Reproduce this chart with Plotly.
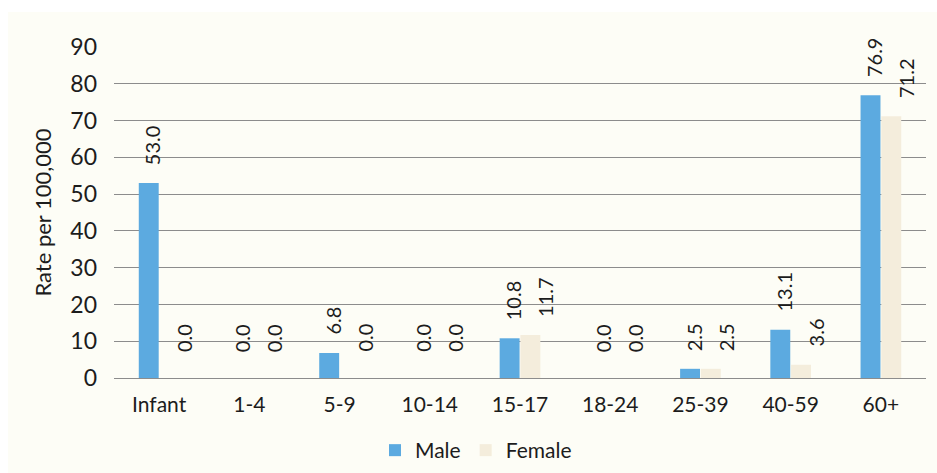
import plotly.graph_objects as go

# Rate per 100,000 by age group and sex
age_groups = ["Infant", "1-4", "5-9", "10-14", "15-17", "18-24", "25-39", "40-59", "60+"]
male_rate = [53.0, 0.0, 6.8, 0.0, 10.8, 0.0, 2.5, 13.1, 76.9]
female_rate = [0.0, 0.0, 0.0, 0.0, 11.7, 0.0, 2.5, 3.6, 71.2]
y_ticks = [0, 10, 20, 30, 40, 50, 60, 70, 80, 90]

MALE_COLOR = "#5CAAE0"
FEMALE_COLOR = "#F4EDDC"
FONT = "Lato, Carlito, Calibri, sans-serif"
TEXT_COLOR = "#1C1C1C"

W, H = 937, 473
L, R, T, B = 114, 11, 47, 95
plot_w = W - L - R
plot_h = H - T - B

fig = go.Figure()
fig.add_trace(go.Bar(x=age_groups, y=male_rate, name="Male",
                     marker=dict(color=MALE_COLOR, line=dict(width=0))))
fig.add_trace(go.Bar(x=age_groups, y=female_rate, name="Female",
                     marker=dict(color=FEMALE_COLOR, line=dict(width=0))))

# rotated value labels above each bar
annotations = []
for series, values, dx in (("m", male_rate, -7), ("f", female_rate, 25)):
    for cat, v in zip(age_groups, values):
        annotations.append(dict(
            x=cat, y=v, xref="x", yref="y",
            text=f"{v:.1f}", showarrow=False, textangle=-90,
            xanchor="center", yanchor="bottom",
            xshift=dx, yshift=24 if v == 0 else 16,
            font=dict(family=FONT, size=20, color=TEXT_COLOR),
        ))

# cream chart panel
shapes = [dict(
    type="rect", xref="paper", yref="paper", layer="below",
    x0=(8 - L) / plot_w, x1=(W - L) / plot_w + 0.01,
    y0=-(B + 5) / plot_h, y1=(H - B - 12) / plot_h,
    fillcolor="#FDFDF6", line=dict(width=0),
)]

fig.update_layout(
    width=W, height=H,
    margin=dict(l=L, r=R, t=T, b=B, pad=0, autoexpand=False),
    paper_bgcolor="#FFFFFF",
    plot_bgcolor="rgba(0,0,0,0)",
    barmode="group", bargap=0.54, bargroupgap=0.04,
    font=dict(family=FONT, size=21, color=TEXT_COLOR),
    showlegend=True,
    legend=dict(orientation="h", xref="container", yref="container",
                x=375 / W, xanchor="left",
                y=1 - 430 / H, yanchor="top",
                font=dict(family=FONT, size=21, color=TEXT_COLOR),
                bgcolor="rgba(0,0,0,0)", traceorder="normal",
                itemwidth=30),
    annotations=annotations,
    shapes=shapes,
    xaxis=dict(showgrid=False, showline=False, ticks="",
               tickfont=dict(family=FONT, size=21, color=TEXT_COLOR),
               ticklabelstandoff=12),
    yaxis=dict(range=[0, 90], tickvals=y_ticks, showgrid=True,
               gridcolor="#8C8C8C", gridwidth=1, zeroline=True,
               zerolinecolor="#8C8C8C", zerolinewidth=1, showline=False,
               ticks="", ticklabelstandoff=16,
               tickfont=dict(family=FONT, size=23, color=TEXT_COLOR),
               title=dict(text="Rate per 100,000", standoff=12,
                          font=dict(family=FONT, size=22, color=TEXT_COLOR))),
)

fig.write_html("out.html")
